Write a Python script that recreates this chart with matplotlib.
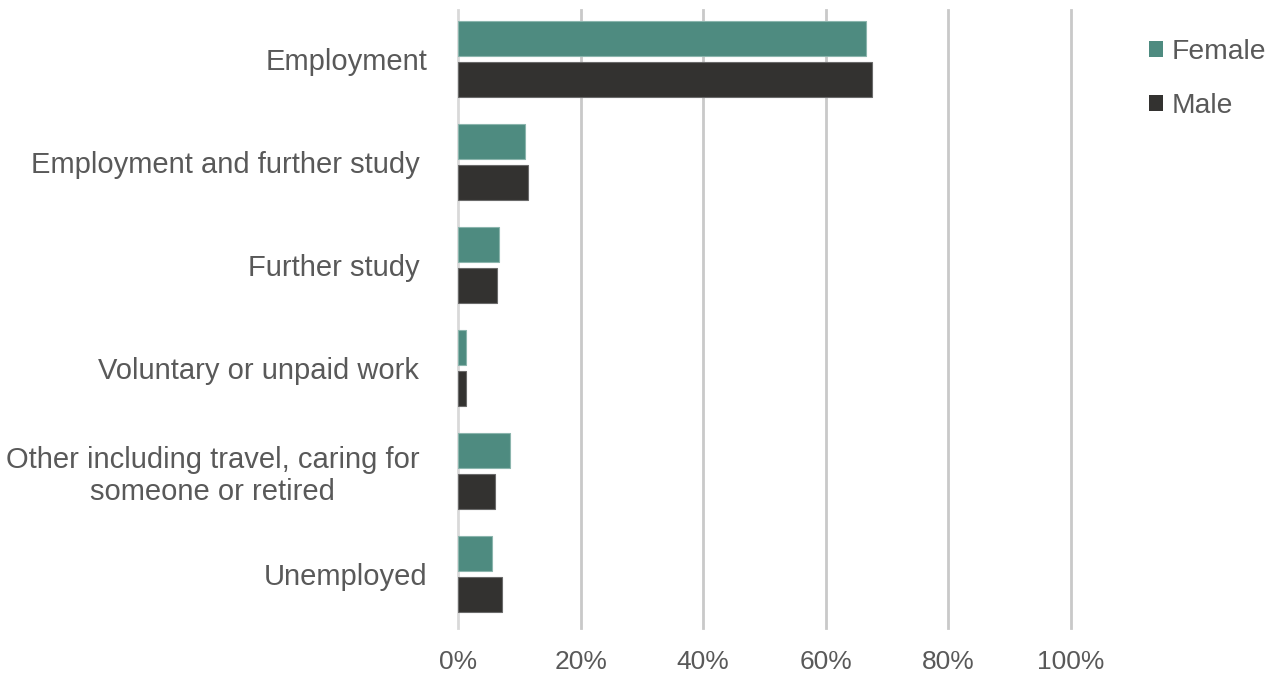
import matplotlib
matplotlib.use("Agg")
import matplotlib.pyplot as plt
import numpy as np
from matplotlib.patches import Patch
from matplotlib.ticker import PercentFormatter

plt.rcParams['font.family'] = ['Liberation Sans', 'DejaVu Sans']

categories = ["Employment", "Employment and further study ", "Further study ",
              "Voluntary or unpaid work ",
              "Other including travel, caring for \nsomeone or retired ", "Unemployed"]
female = [66.5, 11.0, 6.7, 1.3, 8.5, 5.6]
male = [67.6, 11.5, 6.4, 1.3, 6.0, 7.1]
xticks = [0, 20, 40, 60, 80, 100]

c_female = "#4E8B80"
c_male = "#333230"
txt = "#595959"

fig = plt.figure(figsize=(12.78, 6.75), dpi=100)
ax = fig.add_axes([458/1278, 1-628/675, (1071-458)/1278, (628-10)/675])

y = np.arange(len(categories))
h = 0.345
off = 0.2
ax.barh(y - off, female, height=h, color=c_female, edgecolor="#8bb5ad", linewidth=0.8, zorder=3)
ax.barh(y + off, male, height=h, color=c_male, edgecolor="#6a6a6a", linewidth=0.8, zorder=3)

d = 0.024
ax.set_ylim(len(categories) - 0.5 + d, -0.5 + d)
ax.set_xlim(0, 100)
ax.set_yticks(y)
ax.set_yticklabels(categories, fontsize=21, color=txt, multialignment='center')
ax.set_xticks(xticks)
ax.xaxis.set_major_formatter(PercentFormatter(decimals=0))
ax.tick_params(axis='x', labelsize=19, colors=txt, length=0, pad=16)
ax.tick_params(axis='y', length=0, pad=22)
ax.grid(axis='x', color="#c9c9c9", linewidth=2, zorder=0)
for gl in ax.get_xgridlines():
    gl.set_clip_on(False)
ax.get_xgridlines()[0].set_color("#d9d9d9")
for s in ax.spines.values():
    s.set_visible(False)

handles = [Patch(facecolor=c_female, label="Female"), Patch(facecolor=c_male, label="Male")]
fig.legend(handles=handles, loc='upper left', bbox_to_anchor=(1149/1278, 1-39/675),
           frameon=False, fontsize=20.3, labelcolor=txt, handlelength=0.5, handleheight=0.5,
           handletextpad=0.32, labelspacing=1.0, borderpad=0, borderaxespad=0)

fig.savefig("out.png", dpi=100)
